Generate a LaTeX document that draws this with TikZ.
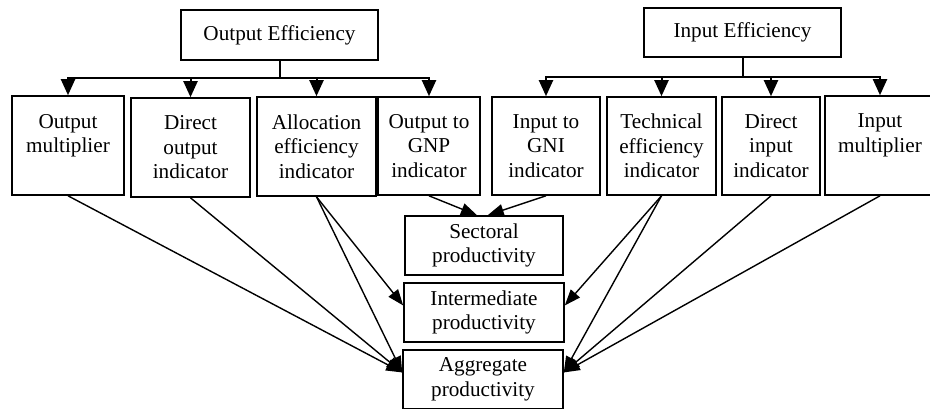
\documentclass[tikz,border=0pt]{standalone}
\usepackage{fontspec}
\setmainfont{Liberation Serif}
\usetikzlibrary{arrows.meta}
\begin{document}
\begin{tikzpicture}[x=1pt,y=-1pt,
  box/.style={draw, line width=1.6pt, inner sep=0pt, align=center,
    font=\fontsize{21.2}{24.5}\selectfont},
  bus/.style={line width=2pt, -{Triangle[length=16pt,width=14pt]}},
  link/.style={line width=1.4pt, -{Triangle[length=16pt,width=12pt]}}]
\useasboundingbox (0,0) rectangle (930,408);
% top boxes
\node[box, minimum width=197pt, minimum height=50pt] (OE) at (279.5,35) {Output Efficiency};
\node[box, minimum width=197pt, minimum height=49pt] (IE) at (742.5,32.5) {Input Efficiency};
% middle row
\node[box, minimum width=112pt, minimum height=99pt] (B1) at (68,145.5) {Output\\multiplier\\\mbox{}};
\node[box, minimum width=119pt, minimum height=99pt] (B2) at (190.5,147.5) {Direct\\output\\indicator};
\node[box, minimum width=119pt, minimum height=99pt] (B3) at (316.5,146.5) {Allocation\\efficiency\\indicator};
\node[box, minimum width=102pt, minimum height=98pt] (B4) at (429,146) {Output to\\GNP\\indicator};
\node[box, minimum width=108pt, minimum height=98pt] (B5) at (546,146) {Input to\\GNI\\indicator};
\node[box, minimum width=109pt, minimum height=98pt] (B6) at (661.5,146) {Technical\\efficiency\\indicator};
\node[box, minimum width=98pt, minimum height=98pt] (B7) at (771,146) {Direct\\input\\indicator};
\node[box, minimum width=110pt, minimum height=99pt] (B8) at (880,145.5) {Input\\multiplier\\\mbox{}};
% bottom boxes
\node[box, minimum width=158pt, minimum height=59pt] (S) at (484,245.5) {Sectoral\\productivity};
\node[box, minimum width=160pt, minimum height=59pt] (I) at (484,312.5) {Intermediate\\productivity};
\node[box, minimum width=160pt, minimum height=59pt] (A) at (483,379.5) {Aggregate\\productivity};
% buses
\coordinate (ob) at (279.5,78);
\coordinate (ib) at (742.5,77);
\draw[line width=2pt] (OE.south) -- (ob);
\draw[line width=2pt] (IE.south) -- (ib);
\foreach \b in {B1,B2,B3,B4} \draw[bus] (ob) -| (\b.north);
\foreach \b in {B5,B6,B7,B8} \draw[bus] (ib) -| (\b.north);
% links
\draw[link] (B1.south) -- (A.175);
\draw[link] (B2.south) -- (A.175);
\draw[link] (B3.south) -- (I.175);
\draw[link] (B3.south) -- (A.175);
\draw[link] (B4.south) -- (S.103);
\draw[link] (B5.south) -- (S.83);
\draw[link] (B6.south) -- (I.5);
\draw[link] (B6.south) -- (A.5);
\draw[link] (B7.south) -- (A.5);
\draw[link] (B8.south) -- (A.5);
\end{tikzpicture}
\end{document}
